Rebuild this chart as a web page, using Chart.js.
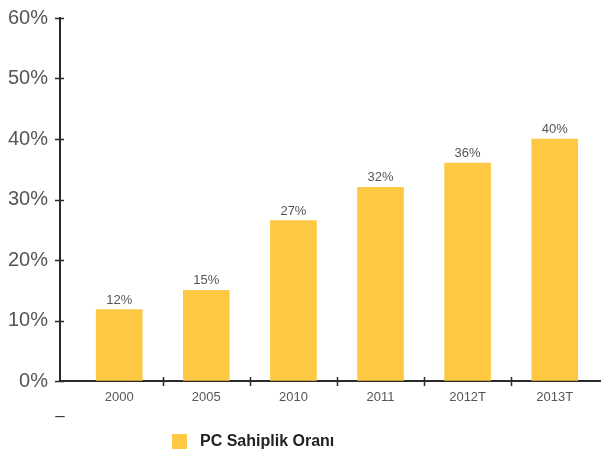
<!DOCTYPE html>
<html>
<head>
<meta charset="utf-8">
<script src="https://cdn.jsdelivr.net/npm/chart.js@4"></script>
<style>
  body { margin: 0; background: #fff; }
  #wrap { width: 601px; height: 458px; position: relative; }
</style>
</head>
<body>
<div id="wrap"><canvas id="pcChart"></canvas></div>
<script>
// PC ownership chart

const categories = ['2000', '2005', '2010', '2011', '2012T', '2013T'];
const ownership = [11.8, 15, 26.5, 32, 36, 40];
const yTicks = [0, 10, 20, 30, 40, 50, 60];
const seriesName = 'PC Sahiplik Oranı';

const barYellow = '#FDC843';
const axisColor = '#2a2a2a';
const textGray = '#555';

Chart.defaults.font.family = "'Liberation Sans', Arial, sans-serif";

// value labels, tick marks, the stray dash and the legend
const extras = {
    id: 'extras',
    afterDatasetsDraw(chart) {
        const ctx = chart.ctx;
        const meta = chart.getDatasetMeta(0);
        ctx.save();
        ctx.fillStyle = '#555';
        ctx.font = "13px 'Liberation Sans', Arial, sans-serif";
        ctx.textAlign = 'center';
        ctx.textBaseline = 'alphabetic';
        meta.data.forEach((bar, i) => {
            ctx.fillText(Math.round(ownership[i]) + '%', bar.x, bar.y - 6);
        });
        ctx.restore();
    },
    afterDraw(chart) {
        const ctx = chart.ctx;
        const xs = chart.scales.x;
        const ys = chart.scales.y;
        const axisX = xs.left;
        const axisY = ys.bottom;

        ctx.save();
        ctx.strokeStyle = axisColor;
        ctx.lineWidth = 1.5;
        ctx.beginPath();
        ys.ticks.forEach(t => {
            const py = Math.round(ys.getPixelForValue(t.value)) + 0.5;
            ctx.moveTo(axisX - 5, py);
            ctx.lineTo(axisX + 4, py);
        });
        for (let i = 0; i < categories.length - 1; i++) {
            const px = Math.round(xs.getPixelForValue(i + 0.5)) + 0.5;
            ctx.moveTo(px, axisY - 4);
            ctx.lineTo(px, axisY + 5);
        }
        ctx.stroke();

        ctx.fillStyle = '#333';
        ctx.font = "17px 'Liberation Sans', Arial, sans-serif";
        ctx.textAlign = 'center';
        ctx.textBaseline = 'middle';
        ctx.fillText('–', axisX, 416);

        // legend
        const ds = chart.data.datasets[0];
        ctx.fillStyle = ds.backgroundColor;
        ctx.fillRect(172, 434, 15, 15);
        ctx.fillStyle = '#222';
        ctx.font = "bold 16px 'Liberation Sans', Arial, sans-serif";
        ctx.textAlign = 'left';
        ctx.fillText(ds.label, 200, 442);
        ctx.restore();
    }
};

new Chart(document.getElementById('pcChart'), {
    type: 'bar',
    data: {
        datasets: [{
            label: seriesName,
            data: ownership.map((v, i) => ({ x: i, y: v })),
            backgroundColor: barYellow,
            borderWidth: 0,
            barThickness: 46
        }]
    },
    options: {
        responsive: true,
        maintainAspectRatio: false,
        animation: false,
        layout: { padding: { top: 18, right: 1, bottom: 47, left: 0 } },
        scales: {
            x: {
                type: 'linear',
                offset: false,
                min: -0.68,
                max: 5.52,
                afterBuildTicks: s => { s.ticks = categories.map((c, i) => ({ value: i })); },
                afterFit: s => { s.height = 30; },
                grid: { offset: false, drawOnChartArea: false, drawTicks: false },
                border: { color: axisColor, width: 2 },
                ticks: {
                    padding: 9,
                    color: textGray,
                    font: { size: 13 },
                    callback: v => categories[v]
                }
            },
            y: {
                min: 0,
                max: 60,
                afterBuildTicks: s => { s.ticks = yTicks.map(v => ({ value: v })); },
                afterFit: s => {
                    s.width = 60;
                    s.paddingTop = 0;
                    s.paddingBottom = 0;
                },
                grid: { drawOnChartArea: false, drawTicks: false },
                border: { color: axisColor, width: 2 },
                ticks: {
                    padding: 12,
                    color: textGray,
                    font: { size: 20 },
                    callback: v => v + '%'
                }
            }
        },
        plugins: {
            legend: { display: false },
            tooltip: { enabled: false }
        }
    },
    plugins: [extras]
});
</script>
</body>
</html>
